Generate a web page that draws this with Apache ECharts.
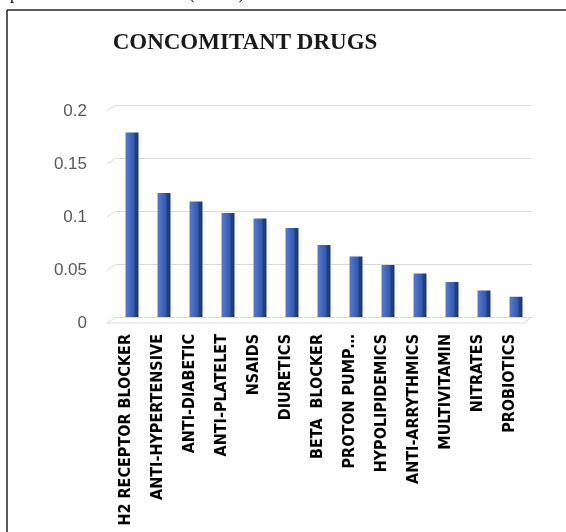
<!DOCTYPE html>
<html>
<head>
<meta charset="utf-8">
<script src="https://cdn.jsdelivr.net/npm/echarts@6/dist/echarts.min.js"></script>
<style>
html,body{margin:0;padding:0;background:#fff;}
#chart{width:566px;height:532px;}
</style>
</head>
<body>
<div id="chart"></div>
<script>
const categories = ['H2 RECEPTOR BLOCKER','ANTI-HYPERTENSIVE','ANTI-DIABETIC','ANTI-PLATELET','NSAIDS','DIURETICS','BETA  BLOCKER','PROTON PUMP…','HYPOLIPIDEMICS','ANTI-ARRYTHMICS','MULTIVITAMIN','NITRATES','PROBIOTICS'];
const values = [0.174, 0.117, 0.109, 0.098, 0.093, 0.084, 0.068, 0.057, 0.049, 0.041, 0.033, 0.025, 0.019];
const yTicks = [0, 0.05, 0.1, 0.15, 0.2];
const titleText = 'CONCOMITANT DRUGS';
const topText = 'prescribed was Probiotics (2.10%).';

const chart = echarts.init(document.getElementById('chart'), null, {renderer:'canvas'});
const baseGraphics = [
  {type:'text', left: 10, top: -14, style:{text: topText, font: '17px "Liberation Serif"', fill:'#000'}},
  {type:'line', shape:{x1:7, y1:10, x2:566, y2:10}, style:{stroke:'#222', lineWidth:1.5}},
  {type:'line', shape:{x1:7, y1:10, x2:7, y2:532}, style:{stroke:'#222', lineWidth:1.5}}
];
chart.setOption({
  animation: false,
  backgroundColor: '#fff',
  title: {
    text: titleText,
    left: 240, top: 27, textAlign: 'center',
    textStyle: {fontFamily: 'Liberation Serif', fontWeight: 'bold', fontSize: 23, color: '#1a1a1a'}
  },
  graphic: baseGraphics,
  grid: {left: 116, right: 34, top: 105, bottom: 215},
  xAxis: {
    type: 'category',
    data: categories,
    axisLine: {show: true, lineStyle: {color: '#d9d9d9'}},
    axisTick: {show: false},
    axisLabel: {
      rotate: 90, margin: 17, interval: 0,
      fontFamily: 'Liberation Sans Narrow, DejaVu Sans Condensed, Arial Narrow, sans-serif',
      fontWeight: 'bold', fontSize: 16, color: '#000',
      verticalAlign: 'bottom', lineHeight: 12
    }
  },
  yAxis: {
    type: 'value', min: 0, max: 0.2, interval: 0.05,
    axisLine: {show: false}, axisTick: {show: false},
    splitLine: {lineStyle: {color: '#d9d9d9', width: 1}},
    axisLabel: {
      margin: 29, fontFamily: 'Liberation Sans', fontSize: 17, color: '#595959',
      verticalAlign: 'top', lineHeight: 13,
      formatter: v => yTicks.includes(+v.toFixed(2)) ? String(+v.toFixed(2)) : ''
    }
  },
  series: [{
    type: 'bar',
    data: values,
    barWidth: 13,
    itemStyle: {
      color: new echarts.graphic.LinearGradient(0, 0, 1, 0, [
        {offset: 0, color: '#5a7dca'},
        {offset: 0.4, color: '#3d66ba'},
        {offset: 0.68, color: '#305aae'},
        {offset: 0.7, color: '#234287'},
        {offset: 1, color: '#1d3773'}
      ])
    }
  }]
});

// 3D-style gridline slants and floor edge, positioned through the axes
const extra = [];
const xLeft = chart.convertToPixel({xAxisIndex:0}, 0) - 16;
const xRight = chart.convertToPixel({xAxisIndex:0}, categories.length - 1) + 16;
yTicks.forEach(v => {
  const y = chart.convertToPixel({yAxisIndex:0}, v);
  extra.push({type:'line', shape:{x1:xLeft - 9, y1:y + 6, x2:xLeft, y2:y}, style:{stroke:'#d9d9d9', lineWidth:1}});
});
const y0 = chart.convertToPixel({yAxisIndex:0}, 0);
extra.push({type:'line', shape:{x1:xLeft - 9, y1:y0 + 6, x2:xRight - 8, y2:y0 + 6}, style:{stroke:'#d9d9d9', lineWidth:1}});
extra.push({type:'line', shape:{x1:xRight - 8, y1:y0 + 6, x2:xRight, y2:y0}, style:{stroke:'#d9d9d9', lineWidth:1}});
chart.setOption({graphic: baseGraphics.concat(extra)});
</script>
</body>
</html>
